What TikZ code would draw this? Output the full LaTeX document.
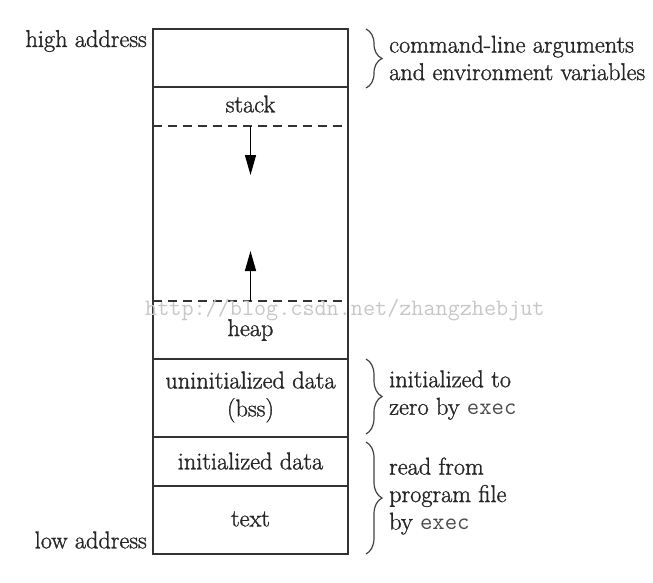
\documentclass[tikz,border=0pt]{standalone}
\usepackage{fontspec}
\setmainfont{Latin Modern Roman}[FakeBold=1.2]
\usetikzlibrary{decorations.pathreplacing,arrows.meta}
\begin{document}
\begin{tikzpicture}[x=1pt,y=-1pt,
  txt/.style={text=black!85, inner sep=0pt},
  lbl/.style={txt, font=\fontsize{24.3}{28}\selectfont, align=center},
  side/.style={txt, font=\fontsize{24.3}{27.5}\selectfont, align=left, anchor=west},
  wall/.style={line width=1.4pt, draw=black!80},
  dash line/.style={line width=1.4pt, draw=black!80, dash pattern=on 9pt off 6pt},
  brc/.style={decorate, decoration={brace, amplitude=16pt, aspect=0.5}, line width=1.2pt, draw=black!75},
  growarrow/.style={line width=1.4pt, -{Triangle[length=20pt,width=11pt]}},
  wm/.style={font=\ttfamily\fontsize{23.5}{24}\selectfont, text=black!22, inner sep=0pt, anchor=west}]
\useasboundingbox (0,0) rectangle (653,583);
\def\exe{{\ttfamily\fontsize{24}{28}\selectfont\color{black!70}exec}}
% column corners
\coordinate (TL) at (153,29);
\coordinate (BR) at (348,554);
\draw[wall] (TL) rectangle (BR);
% solid separators
\foreach \yy/\nm in {87/s1, 359/s2, 437/s3, 486/s4} {
  \coordinate (\nm l) at (153,\yy);
  \coordinate (\nm r) at (348,\yy);
  \draw[wall] (\nm l) -- (\nm r);
}
% dashed separators
\coordinate (d1l) at (153,126); \coordinate (d1r) at (348,126);
\coordinate (d2l) at (153,301); \coordinate (d2r) at (348,301);
\draw[dash line] (d1l) -- (d1r);
\draw[dash line] (d2l) -- (d2r);
% watermark
\node[wm] (mark) at (145,310) {http://blog.csdn.net/zhangzhebjut};
% arrows
\coordinate (a1s) at (250.5,126); \coordinate (a1e) at (250.5,175);
\coordinate (a2s) at (250.5,301); \coordinate (a2e) at (250.5,251);
\draw[growarrow] (a1s) -- (a1e);
\draw[growarrow] (a2s) -- (a2e);
% segment labels
\node[lbl] (stack) at (250.5,104) {stack};
\node[lbl] (heap) at (250.5,330) {heap};
\node[lbl] (bss) at (250.5,397) {uninitialized data\\(bss)};
\node[lbl] (idata) at (250.5,461) {initialized data};
\node[lbl] (text) at (250.5,519) {text};
% address labels
\node[lbl, anchor=east] (high) at (147,41) {high address};
\node[lbl, anchor=east] (low) at (147,540) {low address};
% braces
\coordinate (b1t) at (366,29);  \coordinate (b1b) at (366,88);
\coordinate (b2t) at (366,359); \coordinate (b2b) at (366,434);
\coordinate (b3t) at (366,442); \coordinate (b3b) at (366,554);
\draw[brc] (b1t) -- (b1b);
\draw[brc] (b2t) -- (b2b);
\draw[brc] (b3t) -- (b3b);
\node[side] (args) at (389,58) {command-line arguments\\and environment variables};
\node[side] (zero) at (389,395) {initialized to\\zero by \exe};
\node[side] (file) at (389,496) {read from\\program file\\by \exe};
\end{tikzpicture}
\end{document}
